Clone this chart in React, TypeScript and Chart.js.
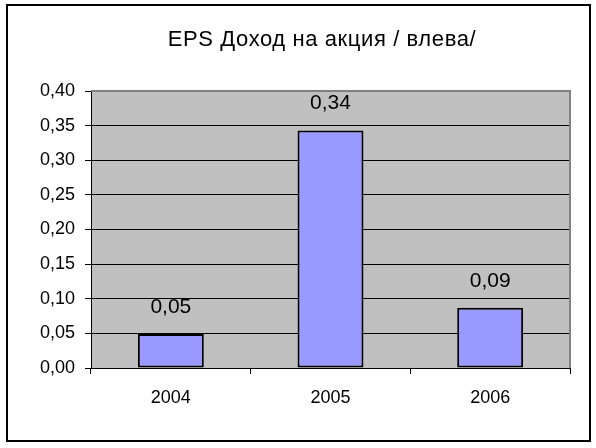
import React, { useEffect, useRef } from "react";
import { Chart, registerables } from "chart.js";

Chart.register(...registerables);

const categories = ["2004", "2005", "2006"];
const epsValues = [0.049, 0.343, 0.087];
const yTicks = [0, 0.05, 0.1, 0.15, 0.2, 0.25, 0.3, 0.35, 0.4];
const titleText = "EPS Доход на акция / влева/";

const FONT = "'Liberation Sans', Arial, sans-serif";
const fmt = (v: number) => v.toFixed(2).replace(".", ",");

const decorPlugin = {
  id: "decor",
  beforeDraw(chart: any) {
    const { ctx, chartArea } = chart;
    ctx.save();
    ctx.fillStyle = "#ffffff";
    ctx.fillRect(0, 0, chart.width, chart.height);
    ctx.fillStyle = "#C0C0C0";
    ctx.fillRect(chartArea.left, chartArea.top, chartArea.right - chartArea.left, chartArea.bottom - chartArea.top);
    ctx.restore();
  },
  afterDraw(chart: any) {
    const { ctx, chartArea } = chart;
    ctx.save();
    ctx.strokeStyle = "#808080";
    ctx.lineWidth = 2;
    ctx.beginPath();
    ctx.moveTo(chartArea.left, chartArea.top);
    ctx.lineTo(chartArea.right, chartArea.top);
    ctx.lineTo(chartArea.right, chartArea.bottom);
    ctx.stroke();
    ctx.strokeStyle = "#000000";
    ctx.lineWidth = 2;
    ctx.strokeRect(7, 5, 583, 436);
    ctx.fillStyle = "#000000";
    ctx.font = `22px ${FONT}`;
    ctx.textAlign = "center";
    ctx.textBaseline = "middle";
    try { (ctx as any).letterSpacing = "0.6px"; } catch (e) {}
    ctx.fillText(titleText, 322, 40);
    try { (ctx as any).letterSpacing = "0px"; } catch (e) {}
    const meta = chart.getDatasetMeta(0);
    ctx.font = `21px ${FONT}`;
    ctx.textBaseline = "alphabetic";
    meta.data.forEach((bar: any, i: number) => {
      const v = chart.data.datasets[0].data[i] as number;
      ctx.fillText(fmt(v), bar.x, bar.y - 21);
    });
    ctx.restore();
  },
};

export default function App() {
  const ref = useRef<HTMLCanvasElement | null>(null);
  useEffect(() => {
    document.body.style.margin = "0";
    const chart = new Chart(ref.current as HTMLCanvasElement, {
      type: "bar",
      data: {
        labels: categories,
        datasets: [
          {
            data: epsValues,
            backgroundColor: "#9999FF",
            borderColor: "#000000",
            borderWidth: 2,
            borderSkipped: false,
            categoryPercentage: 1,
            barPercentage: 0.413,
          },
        ],
      },
      options: {
        responsive: false,
        animation: false,
        devicePixelRatio: 1,
        layout: { padding: { left: 0, right: 26, top: 91, bottom: 0 } },
        plugins: {
          legend: { display: false },
          title: { display: false },
          tooltip: { enabled: false },
        },
        scales: {
          x: {
            grid: {
              offset: true,
              drawOnChartArea: false,
              drawTicks: true,
              tickLength: 6,
              color: "#000000",
              lineWidth: 1,
            },
            border: { display: true, color: "#000000", width: 1 },
            ticks: {
              color: "#000000",
              font: { family: FONT, size: 18 },
              padding: 13,
            },
            afterFit(scale: any) {
              scale.height = 80;
            },
          },
          y: {
            min: 0,
            max: 0.4,
            afterBuildTicks(scale: any) {
              scale.ticks = yTicks.map((v) => ({ value: v }));
            },
            grid: {
              color: "#000000",
              lineWidth: 1,
              drawTicks: true,
              tickLength: 6,
            },
            border: { display: true, color: "#000000", width: 1 },
            ticks: {
              color: "#000000",
              font: { family: FONT, size: 18 },
              padding: 10,
              callback: (v: any) => fmt(Number(v)),
            },
            afterFit(scale: any) {
              scale.width = 91;
            },
          },
        },
      },
      plugins: [decorPlugin],
    });
    return () => chart.destroy();
  }, []);
  return (
    <div style={{ position: "fixed", left: 0, top: 0, width: 596, height: 448 }}>
      <canvas ref={ref} width={596} height={448} />
    </div>
  );
}
